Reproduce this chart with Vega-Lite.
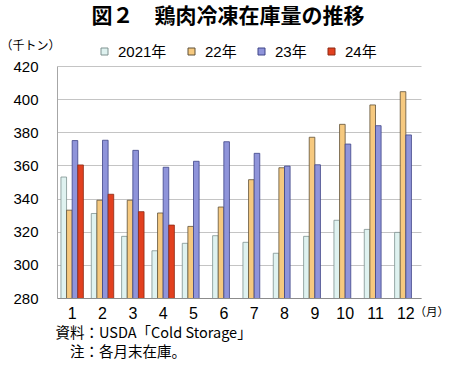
{
  "$schema": "https://vega.github.io/schema/vega-lite/v6.json",
  "width": 364,
  "height": 232,
  "autosize": "none",
  "padding": {"left": 57, "top": 66, "right": 29, "bottom": 74},
  "background": "white",
  "config": {
    "font": "Liberation Sans, Noto Sans CJK JP",
    "view": {"stroke": null},
    "axis": {"labelColor": "#000000", "titleColor": "#000000", "labelFont": "Liberation Sans, Noto Sans CJK JP", "titleFont": "Liberation Sans, Noto Sans CJK JP", "titleFontWeight": "normal"}
  },
  "title": {
    "text": "図２　鶏肉冷凍在庫量の推移",
    "font": "Noto Sans CJK JP",
    "fontSize": 21,
    "fontWeight": "bold",
    "color": "#000000",
    "anchor": "middle",
    "frame": "group",
    "dx": -11,
    "offset": 12
  },
  "data": {
    "values": [
      {"month": 1, "year": "2021年", "value": 353},
      {"month": 1, "year": "22年", "value": 333},
      {"month": 1, "year": "23年", "value": 375},
      {"month": 1, "year": "24年", "value": 360.3},
      {"month": 2, "year": "2021年", "value": 331},
      {"month": 2, "year": "22年", "value": 339},
      {"month": 2, "year": "23年", "value": 375.2},
      {"month": 2, "year": "24年", "value": 342.6},
      {"month": 3, "year": "2021年", "value": 317.2},
      {"month": 3, "year": "22年", "value": 339},
      {"month": 3, "year": "23年", "value": 369.1},
      {"month": 3, "year": "24年", "value": 332.1},
      {"month": 4, "year": "2021年", "value": 308.5},
      {"month": 4, "year": "22年", "value": 331.3},
      {"month": 4, "year": "23年", "value": 358.9},
      {"month": 4, "year": "24年", "value": 324},
      {"month": 5, "year": "2021年", "value": 313},
      {"month": 5, "year": "22年", "value": 323.2},
      {"month": 5, "year": "23年", "value": 362.5},
      {"month": 6, "year": "2021年", "value": 317.6},
      {"month": 6, "year": "22年", "value": 334.9},
      {"month": 6, "year": "23年", "value": 374.3},
      {"month": 7, "year": "2021年", "value": 313.6},
      {"month": 7, "year": "22年", "value": 351.4},
      {"month": 7, "year": "23年", "value": 367.3},
      {"month": 8, "year": "2021年", "value": 307},
      {"month": 8, "year": "22年", "value": 358.6},
      {"month": 8, "year": "23年", "value": 359.6},
      {"month": 9, "year": "2021年", "value": 317.2},
      {"month": 9, "year": "22年", "value": 377},
      {"month": 9, "year": "23年", "value": 360.4},
      {"month": 10, "year": "2021年", "value": 326.9},
      {"month": 10, "year": "22年", "value": 384.8},
      {"month": 10, "year": "23年", "value": 372.9},
      {"month": 11, "year": "2021年", "value": 321.4},
      {"month": 11, "year": "22年", "value": 396.5},
      {"month": 11, "year": "23年", "value": 384},
      {"month": 12, "year": "2021年", "value": 319.6},
      {"month": 12, "year": "22年", "value": 404.5},
      {"month": 12, "year": "23年", "value": 378.4}
    ]
  },
  "layer": [
    {
      "mark": {"type": "bar", "strokeWidth": 0.8, "clip": true},
      "encoding": {
        "x": {
          "field": "month",
          "type": "ordinal",
          "scale": {"paddingInner": 0.26, "paddingOuter": 0.13},
          "axis": {
            "labelAngle": 0,
            "labelFontSize": 16,
            "labelPadding": 7,
            "ticks": false,
            "domainColor": "#8c8c8c",
            "domainWidth": 1,
            "title": ["資料：USDA「Cold Storage」", "\u200b　注：各月末在庫。"],
            "titleFont": "Noto Sans CJK JP",
            "titleFontSize": 14.5,
            "titleAlign": "left",
            "titleAnchor": "start",
            "titleBaseline": "top",
            "titleLineHeight": 19,
            "titleX": -2,
            "titleY": 28
          }
        },
        "xOffset": {"field": "year", "type": "nominal", "scale": {"domain": ["2021年", "22年", "23年", "24年"], "paddingInner": 0, "paddingOuter": 0}},
        "y": {
          "field": "value",
          "type": "quantitative",
          "scale": {"domain": [280, 420], "zero": false, "nice": false},
          "axis": {
            "values": [280, 300, 320, 340, 360, 380, 400, 420],
            "labelFontSize": 15,
            "labelPadding": 19,
            "ticks": false,
            "grid": true,
            "gridColor": "#c4c4c4",
            "gridWidth": 1,
            "domainColor": "#a6a6a6",
            "title": "（千トン）",
            "titleFont": "Noto Sans CJK JP",
            "titleFontSize": 12,
            "titleAngle": 0,
            "titleAlign": "left",
            "titleBaseline": "middle",
            "titleX": -57,
            "titleY": -21
          }
        },
        "color": {
          "field": "year",
          "type": "nominal",
          "scale": {"domain": ["2021年", "22年", "23年", "24年"], "range": ["#dff2f0", "#f6c97f", "#8f94da", "#e2401f"]},
          "legend": {
            "title": null,
            "orient": "none",
            "direction": "horizontal",
            "legendX": 40,
            "legendY": -22,
            "padding": 0,
            "gridAlign": "none",
            "symbolType": "square",
            "symbolSize": 49,
            "symbolStrokeWidth": 1,
            "labelFontSize": 15,
            "labelFont": "Liberation Sans, Noto Sans CJK JP",
            "labelOffset": 6,
            "columnPadding": 17,
            "labelColor": "#000000"
          }
        },
        "stroke": {
          "field": "year",
          "type": "nominal",
          "scale": {"domain": ["2021年", "22年", "23年", "24年"], "range": ["#7f9290", "#5f5138", "#3f4588", "#8c2a14"]},
          "legend": null
        }
      }
    },
    {
      "mark": {"type": "point", "opacity": 0},
      "encoding": {
        "x": {"field": "month", "type": "ordinal"},
        "y": {
          "field": "value",
          "type": "quantitative",
          "scale": {"domain": [280, 420], "zero": false, "nice": false},
          "axis": {
            "orient": "right",
            "labels": false,
            "ticks": false,
            "domain": false,
            "grid": false,
            "title": "（月）",
            "titleFont": "Noto Sans CJK JP",
            "titleFontSize": 11.5,
            "titleAngle": 0,
            "titleAlign": "left",
            "titleBaseline": "middle",
            "titleX": -7,
            "titleY": 246
          }
        }
      }
    }
  ],
  "resolve": {"scale": {"y": "independent"}}
}
